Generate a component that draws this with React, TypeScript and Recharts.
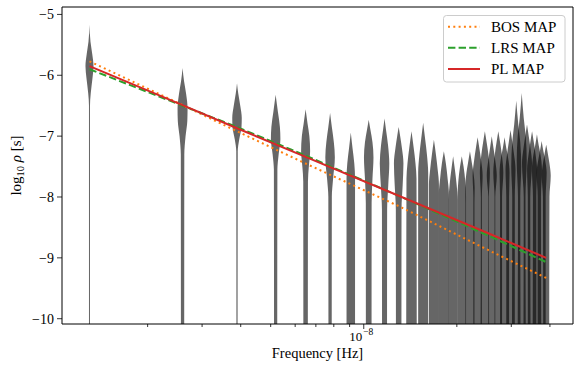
import React from "react";
import { ComposedChart, Area, Line, XAxis, YAxis, ReferenceArea } from "recharts";

// lowest frequency bin (1/T) and the harmonics that carry a violin
const F1 = 1.297e-9;
const harmonics = [
  1, 2, 3, 4, 5, 6, 7, 8, 9, 10, 11, 12, 13, 14, 15, 16, 17, 18, 19, 20, 21,
  22, 23, 24, 25, 26, 27, 28, 29, 30,
];

const xTicks = [2e-9, 3e-9, 4e-9, 5e-9, 6e-9, 7e-9, 8e-9, 9e-9, 1e-8, 2e-8, 3e-8, 4e-8];
const xMajor = [1e-8];
const yTicks = [-10, -9, -8, -7, -6, -5];
const X_DOMAIN: [number, number] = [1.057e-9, 4.75e-8];
const Y_DOMAIN: [number, number] = [-10.087, -4.878];

// MAP spectra, log10 rho at a few harmonics
const lineHarmonics = [1, 2, 3, 5, 10, 20, 30];
const bosMap = [-5.77, -6.49, -6.92, -7.45, -8.15, -8.9, -9.33];
const lrsMap = [-5.9, -6.5, -6.85, -7.32, -7.98, -8.66, -9.07];
const plMap = [-5.85, -6.49, -6.87, -7.34, -7.98, -8.62, -9.0];

// violin outlines: [log10 rho, relative density], one list per harmonic
const violinKnots: [number, number][][] = [
  [[-10.1, 0.1], [-6.5, 0.1], [-6.3, 0.25], [-6.05, 0.6], [-5.85, 0.8], [-5.65, 0.55], [-5.45, 0.2], [-5.17, 0]],
  [[-10.1, 0.33], [-7.3, 0.35], [-7.0, 0.6], [-6.75, 0.95], [-6.55, 1], [-6.3, 0.7], [-6.1, 0.3], [-5.88, 0]],
  [[-10.1, 0.12], [-7.25, 0.15], [-7.05, 0.45], [-6.85, 0.9], [-6.7, 0.95], [-6.5, 0.65], [-6.3, 0.25], [-6.13, 0]],
  [[-10.1, 0.32], [-7.55, 0.35], [-7.3, 0.6], [-7.05, 0.95], [-6.85, 0.85], [-6.6, 0.45], [-6.32, 0]],
  [[-10.1, 0.45], [-7.75, 0.47], [-7.5, 0.65], [-7.25, 0.9], [-7.0, 0.75], [-6.8, 0.4], [-6.56, 0]],
  [[-10.1, 0.33], [-8.0, 0.35], [-7.7, 0.6], [-7.35, 0.95], [-7.1, 0.75], [-6.85, 0.35], [-6.62, 0]],
  [[-10.1, 0.85], [-7.7, 0.85], [-7.45, 0.7], [-7.2, 0.35], [-6.94, 0]],
  [[-10.1, 0.57], [-8.1, 0.58], [-7.7, 0.75], [-7.35, 0.95], [-7.1, 0.75], [-6.9, 0.35], [-6.73, 0]],
  [[-10.1, 0.5], [-8.2, 0.52], [-7.8, 0.75], [-7.45, 0.95], [-7.15, 0.7], [-6.9, 0.3], [-6.71, 0]],
  [[-10.1, 0.55], [-8.2, 0.57], [-7.8, 0.8], [-7.45, 0.95], [-7.2, 0.65], [-7.0, 0.3], [-6.85, 0]],
  [[-10.1, 1.05], [-7.7, 1.0], [-7.45, 0.8], [-7.2, 0.45], [-6.92, 0]],
  [[-10.1, 1.0], [-7.6, 1.0], [-7.3, 0.75], [-7.05, 0.4], [-6.78, 0]],
  [[-10.1, 1.0], [-7.8, 1.0], [-7.55, 0.75], [-7.3, 0.4], [-7.06, 0]],
  [[-10.1, 1.0], [-7.95, 1.0], [-7.7, 0.75], [-7.45, 0.4], [-7.25, 0]],
  [[-10.1, 0.9], [-8.05, 0.9], [-7.8, 0.7], [-7.55, 0.35], [-7.33, 0]],
  [[-10.1, 0.85], [-8.0, 0.85], [-7.75, 0.7], [-7.5, 0.35], [-7.33, 0]],
  [[-10.1, 0.9], [-8.1, 0.9], [-7.85, 0.95], [-7.6, 0.7], [-7.45, 0.4], [-7.25, 0]],
  [[-10.1, 0.85], [-8.0, 0.85], [-7.65, 1.0], [-7.4, 0.7], [-7.2, 0.35], [-7.02, 0]],
  [[-10.1, 0.85], [-8.0, 0.8], [-7.6, 1.0], [-7.3, 0.7], [-7.1, 0.35], [-6.92, 0]],
  [[-10.1, 0.7], [-8.0, 0.7], [-7.65, 1.0], [-7.4, 0.7], [-7.2, 0.35], [-7.0, 0]],
  [[-10.1, 0.75], [-8.0, 0.75], [-7.6, 1.0], [-7.3, 0.7], [-7.1, 0.35], [-6.92, 0]],
  [[-10.1, 0.9], [-8.0, 0.9], [-7.6, 1.0], [-7.35, 0.7], [-7.2, 0.35], [-7.02, 0]],
  [[-10.1, 0.85], [-8.0, 0.85], [-7.55, 1.0], [-7.3, 0.7], [-7.1, 0.35], [-6.9, 0]],
  [[-10.1, 0.85], [-8.0, 0.8], [-7.5, 1.0], [-7.1, 0.8], [-6.8, 0.4], [-6.42, 0]],
  [[-10.1, 0.8], [-8.0, 0.75], [-7.4, 1.0], [-7.0, 0.8], [-6.7, 0.4], [-6.29, 0]],
  [[-10.1, 0.7], [-8.0, 0.65], [-7.45, 1.0], [-7.2, 0.7], [-7.0, 0.35], [-6.81, 0]],
  [[-10.1, 0.85], [-8.0, 0.85], [-7.55, 1.0], [-7.3, 0.7], [-7.1, 0.35], [-6.92, 0]],
  [[-10.1, 0.85], [-8.0, 0.8], [-7.55, 1.0], [-7.3, 0.7], [-7.15, 0.35], [-6.97, 0]],
  [[-10.1, 0.8], [-8.0, 0.8], [-7.6, 1.0], [-7.4, 0.7], [-7.25, 0.35], [-7.08, 0]],
  [[-10.1, 0.6], [-8.0, 0.65], [-7.65, 0.9], [-7.45, 0.65], [-7.3, 0.35], [-7.14, 0]],
];

const HALF_WIDTH = 0.0162; // max violin half width, in decades of frequency

const violinData = violinKnots.map((knots, i) => {
  const f = F1 * harmonics[i];
  return knots.map(([v, d]) => ({
    v,
    r: [f / 10 ** (d * HALF_WIDTH), f * 10 ** (d * HALF_WIDTH)],
  }));
});

const toLine = (vals: number[]) =>
  lineHarmonics.map((h, i) => ({ v: vals[i], f: F1 * h }));

const series = [
  { name: "BOS MAP", data: toLine(bosMap), color: "#ff7f0e", dash: "2 3.3" },
  { name: "LRS MAP", data: toLine(lrsMap), color: "#2ca02c", dash: "7.4 3.2" },
  { name: "PL MAP", data: toLine(plMap), color: "#d62728", dash: undefined },
];

const FONT = '"Liberation Serif", "DejaVu Serif", serif';

function XTick({ x, y, payload }: any) {
  const major = xMajor.some((m) => Math.abs(payload.value / m - 1) < 1e-6);
  return (
    <g>
      <line x1={x} x2={x} y1={y} y2={y + (major ? 5 : 3)} stroke="#000" strokeWidth={0.8} />
      {major && (
        <g>
          <text x={x - 1.5} y={y + 16.5} textAnchor="end" fontSize={13} fontFamily={FONT} fill="#000">
            10
          </text>
          <text x={x - 0.5} y={y + 11} textAnchor="start" fontSize={9.5} fontFamily={FONT} fill="#000">
            {"\u2212" + Math.round(-Math.log10(payload.value))}
          </text>
        </g>
      )}
    </g>
  );
}

function YTick({ x, y, payload }: any) {
  const v = payload.value;
  return (
    <g>
      <line x1={x - 5} x2={x} y1={y} y2={y} stroke="#000" strokeWidth={0.8} />
      <text x={x - 8} y={y} dy="0.35em" textAnchor="end" fontSize={14} fontFamily={FONT} fill="#000">
        {(v < 0 ? "\u2212" : "") + Math.abs(v)}
      </text>
    </g>
  );
}

const xLabel = (props: any) => {
  const vb = props.viewBox;
  return (
    <text x={vb.x + vb.width / 2} y={vb.y + 33.5} textAnchor="middle" fontSize={14.5} fontFamily={FONT} fill="#000">
      Frequency [Hz]
    </text>
  );
};

const yLabel = (props: any) => {
  const vb = props.viewBox;
  const cy = vb.y + vb.height / 2;
  return (
    <text
      x={21}
      y={cy}
      transform={`rotate(-90, 21, ${cy})`}
      textAnchor="middle"
      fontSize={15}
      fontFamily={FONT}
      fill="#000"
    >
      log
      <tspan dy={3} fontSize={10.5}>10</tspan>
      <tspan dy={-3}> </tspan>
      <tspan fontStyle="italic">ρ</tspan>
      <tspan> [s]</tspan>
    </text>
  );
};

function LegendBox() {
  const rows = [26.7, 47.7, 69];
  return (
    <svg width={581} height={374} style={{ position: "absolute", left: 0, top: 0, pointerEvents: "none" }}>
      <rect x={443.5} y={15.5} width={121.5} height={66.5} rx={3} fill="#fff" fillOpacity={0.8} stroke="#ccc" strokeWidth={1} />
      {series.map((s, i) => (
        <g key={s.name}>
          <line x1={448} x2={480} y1={rows[i]} y2={rows[i]} stroke={s.color} strokeWidth={2} strokeDasharray={s.dash} />
          <text x={491} y={rows[i] + 4.8} fontSize={15} fontFamily={FONT} fill="#000">
            {s.name}
          </text>
        </g>
      ))}
    </svg>
  );
}

export default function App() {
  return (
    <div style={{ position: "absolute", left: 0, top: 0, width: 581, height: 374, background: "#fff" }}>
      <ComposedChart
        width={581}
        height={374}
        layout="vertical"
        margin={{ top: 7, right: 8, bottom: 0, left: 0 }}
      >
        <XAxis
          type="number"
          scale="log"
          domain={X_DOMAIN}
          allowDataOverflow
          ticks={xTicks}
          interval={0}
          tick={<XTick />}
          tickLine={false}
          axisLine={false}
          tickSize={0}
          tickMargin={0}
          height={50}
          label={xLabel}
        />
        <YAxis
          type="number"
          dataKey="v"
          domain={Y_DOMAIN}
          allowDataOverflow
          reversed
          ticks={yTicks}
          interval={0}
          tick={<YTick />}
          tickLine={false}
          axisLine={false}
          tickSize={0}
          tickMargin={0}
          width={62}
          label={yLabel}
        />
        {violinData.map((d, i) => (
          <Area
            key={"violin" + i}
            data={d}
            dataKey="r"
            type="monotone"
            fill="#000"
            fillOpacity={0.6}
            stroke="none"
            dot={false}
            activeDot={false}
            legendType="none"
            isAnimationActive={false}
          />
        ))}
        {series.map((s) => (
          <Line
            key={s.name}
            data={s.data}
            dataKey="f"
            type="linear"
            stroke={s.color}
            strokeWidth={2}
            strokeDasharray={s.dash}
            dot={false}
            activeDot={false}
            isAnimationActive={false}
          />
        ))}
        <ReferenceArea
          x1={X_DOMAIN[0]}
          x2={X_DOMAIN[1]}
          y1={Y_DOMAIN[0]}
          y2={Y_DOMAIN[1]}
          ifOverflow="visible"
          fill="none"
          stroke="#000"
          strokeWidth={1}
        />
      </ComposedChart>
      <LegendBox />
    </div>
  );
}
